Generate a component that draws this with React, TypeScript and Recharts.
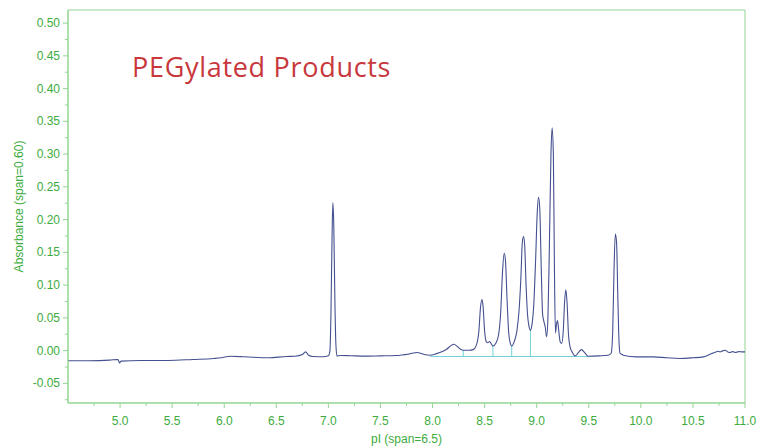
import React from "react";
import {
  LineChart,
  Line,
  XAxis,
  YAxis,
  ReferenceLine,
  ReferenceArea,
} from "recharts";

const pI = [
  4.5, 4.7, 4.9, 4.98, 4.995, 5.01, 5.2, 5.46, 5.7, 5.9, 5.97, 6.06, 6.2, 6.42, 6.6, 6.68, 6.75, 6.78,
  6.81, 6.85, 6.95, 7.0, 7.015, 7.025, 7.035, 7.043, 7.052, 7.062, 7.072, 7.082, 7.12, 7.21, 7.35, 7.5,
  7.65, 7.78, 7.85, 7.92, 7.975, 8.07, 8.135, 8.18, 8.205, 8.24, 8.27, 8.295, 8.35, 8.39, 8.42, 8.445,
  8.46, 8.474, 8.485, 8.5, 8.515, 8.53, 8.55, 8.565, 8.58, 8.61, 8.635, 8.655, 8.672, 8.688, 8.7, 8.715,
  8.73, 8.745, 8.76, 8.785, 8.81, 8.83, 8.848, 8.862, 8.874, 8.885, 8.898, 8.912, 8.925, 8.94, 8.955,
  8.972, 8.99, 9.005, 9.018, 9.03, 9.043, 9.057, 9.07, 9.082, 9.095, 9.108, 9.122, 9.137, 9.148, 9.16,
  9.17, 9.18, 9.19, 9.2, 9.212, 9.226, 9.24, 9.255, 9.268, 9.28, 9.292, 9.305, 9.32, 9.34, 9.37, 9.4,
  9.43, 9.46, 9.495, 9.6, 9.687, 9.715, 9.73, 9.742, 9.755, 9.767, 9.778, 9.79, 9.8, 9.815, 9.83, 9.96,
  10.12, 10.25, 10.375, 10.5, 10.6, 10.68, 10.72, 10.74, 10.76, 10.79, 10.81, 10.835, 10.855, 10.88,
  10.91, 10.94, 10.98, 11.0,
];

const absorbance = [
  -0.0155, -0.0155, -0.0145, -0.0135, -0.019, -0.016, -0.015, -0.015, -0.0135, -0.012, -0.011, -0.0086,
  -0.0095, -0.011, -0.009, -0.0086, -0.006, -0.002, -0.007, -0.009, -0.0095, -0.008, 0.0, 0.06, 0.17,
  0.226, 0.19, 0.08, 0.01, -0.008, -0.0075, -0.0078, -0.0085, -0.008, -0.0075, -0.005, -0.003, -0.006,
  -0.007, -0.003, 0.002, 0.008, 0.0096, 0.006, 0.002, 0.0005, 0.0005, 0.0015, 0.008, 0.03, 0.065, 0.078,
  0.068, 0.03, 0.014, 0.012, 0.014, 0.01, 0.007, 0.012, 0.025, 0.06, 0.12, 0.149, 0.138, 0.08, 0.03,
  0.012, 0.007, 0.014, 0.03, 0.06, 0.11, 0.165, 0.174, 0.16, 0.1, 0.055, 0.038, 0.031, 0.04, 0.07, 0.14,
  0.21, 0.234, 0.215, 0.13, 0.055, 0.044, 0.036, 0.021, 0.05, 0.16, 0.3, 0.34, 0.3, 0.13, 0.027, 0.04,
  0.046, 0.03, 0.013, 0.011, 0.03, 0.075, 0.093, 0.072, 0.025, 0.006, -0.002, -0.008, -0.003, 0.0015,
  -0.003, -0.0086, -0.008, -0.007, -0.004, 0.03, 0.12, 0.178, 0.165, 0.09, 0.015, -0.004, -0.0056,
  -0.007, -0.0096, -0.0096, -0.011, -0.012, -0.011, -0.0096, -0.0046, -0.002, -0.001, -0.002, 0.0,
  0.0005, -0.002, -0.003, -0.0015, -0.003, -0.0015, -0.002, -0.002,
];

// integration marks
const dropX = [8.295, 8.58, 8.76, 8.94];
const dropTop = [0.0005, 0.007, 0.007, 0.031];
const baselineFrom = 7.98;
const baselineTo = 9.51;
const baselineLevel = -0.009;

const xTicks = [
  4.75, 5.0, 5.25, 5.5, 5.75, 6.0, 6.25, 6.5, 6.75, 7.0, 7.25, 7.5, 7.75, 8.0, 8.25, 8.5, 8.75, 9.0,
  9.25, 9.5, 9.75, 10.0, 10.25, 10.5, 10.75, 11.0,
];
const yTicks = [
  -0.075, -0.05, -0.025, 0.0, 0.025, 0.05, 0.075, 0.1, 0.125, 0.15, 0.175, 0.2, 0.225, 0.25, 0.275,
  0.3, 0.325, 0.35, 0.375, 0.4, 0.425, 0.45, 0.475, 0.5,
];

const data = pI.map((x, i) => ({ x, y: absorbance[i] }));

const AXIS = "#93d593";
const TEXT = "#3dab3d";
const TRACE = "#44508f";
const CYAN = "#72d2da";

const isMajor = (v: number, step: number) =>
  Math.abs(v / step - Math.round(v / step)) < 1e-6;

function XTick(props: any) {
  const { x, y, payload } = props;
  const v = payload.value;
  const major = isMajor(v, 0.5);
  return (
    <g>
      <line x1={x} x2={x} y1={y} y2={y + (major ? 5 : 3)} stroke={AXIS} />
      {major && (
        <text x={x} y={y + 22} textAnchor="middle" fill={TEXT} fontSize={12}>
          {v.toFixed(1)}
        </text>
      )}
    </g>
  );
}

function YTick(props: any) {
  const { x, y, payload } = props;
  const v = payload.value;
  const major = isMajor(v, 0.05);
  return (
    <g>
      <line x1={x - (major ? 5 : 3)} x2={x} y1={y} y2={y} stroke={AXIS} />
      {major && (
        <text x={x - 8} y={y + 4} textAnchor="end" fill={TEXT} fontSize={12}>
          {v.toFixed(2)}
        </text>
      )}
    </g>
  );
}

export default function App() {
  return (
    <div
      style={{
        position: "absolute",
        left: 0,
        top: 0,
        width: 762,
        height: 448,
        background: "#fff",
        fontFamily: "'Liberation Sans', Arial, sans-serif",
      }}
    >
      <LineChart
        width={762}
        height={448}
        data={data}
        margin={{ top: 10, right: 17, bottom: 0, left: 0 }}
      >
        <XAxis
          dataKey="x"
          type="number"
          domain={[4.5, 11]}
          ticks={xTicks}
          allowDataOverflow
          tick={<XTick />}
          tickLine={false}
          tickSize={0}
          tickMargin={0}
          interval={0}
          axisLine={{ stroke: AXIS }}
          height={45}
          label={{
            value: "pI (span=6.5)",
            position: "insideBottom",
            offset: 5,
            fill: TEXT,
            fontSize: 12,
          }}
        />
        <YAxis
          type="number"
          domain={[-0.08, 0.52]}
          ticks={yTicks}
          allowDataOverflow
          tick={<YTick />}
          tickLine={false}
          tickSize={0}
          tickMargin={0}
          interval={0}
          axisLine={{ stroke: AXIS }}
          width={68}
          label={{
            value: "Absorbance (span=0.60)",
            angle: -90,
            position: "insideLeft",
            offset: 19,
            fill: TEXT,
            fontSize: 12,
            style: { textAnchor: "middle" },
          }}
        />
        <ReferenceArea
          x1={4.5}
          x2={11}
          y1={-0.08}
          y2={0.52}
          fill="none"
          stroke={AXIS}
          ifOverflow="visible"
        />
        <ReferenceLine
          segment={[
            { x: baselineFrom, y: baselineLevel },
            { x: baselineTo, y: baselineLevel },
          ]}
          stroke={CYAN}
          strokeWidth={1}
        />
        {dropX.map((dx, i) => (
          <ReferenceLine
            key={i}
            segment={[
              { x: dx, y: baselineLevel },
              { x: dx, y: dropTop[i] },
            ]}
            stroke={CYAN}
            strokeWidth={1}
          />
        ))}
        <Line
          type="monotone"
          dataKey="y"
          stroke={TRACE}
          strokeWidth={1.1}
          dot={false}
          isAnimationActive={false}
        />
      </LineChart>
      <div
        style={{
          position: "absolute",
          left: 132,
          top: 52,
          fontFamily: "'Open Sans', sans-serif",
          fontSize: 27,
          letterSpacing: 0.7,
          lineHeight: "30px",
          color: "#c8383d",
          whiteSpace: "nowrap",
        }}
      >
        PEGylated Products
      </div>
    </div>
  );
}
